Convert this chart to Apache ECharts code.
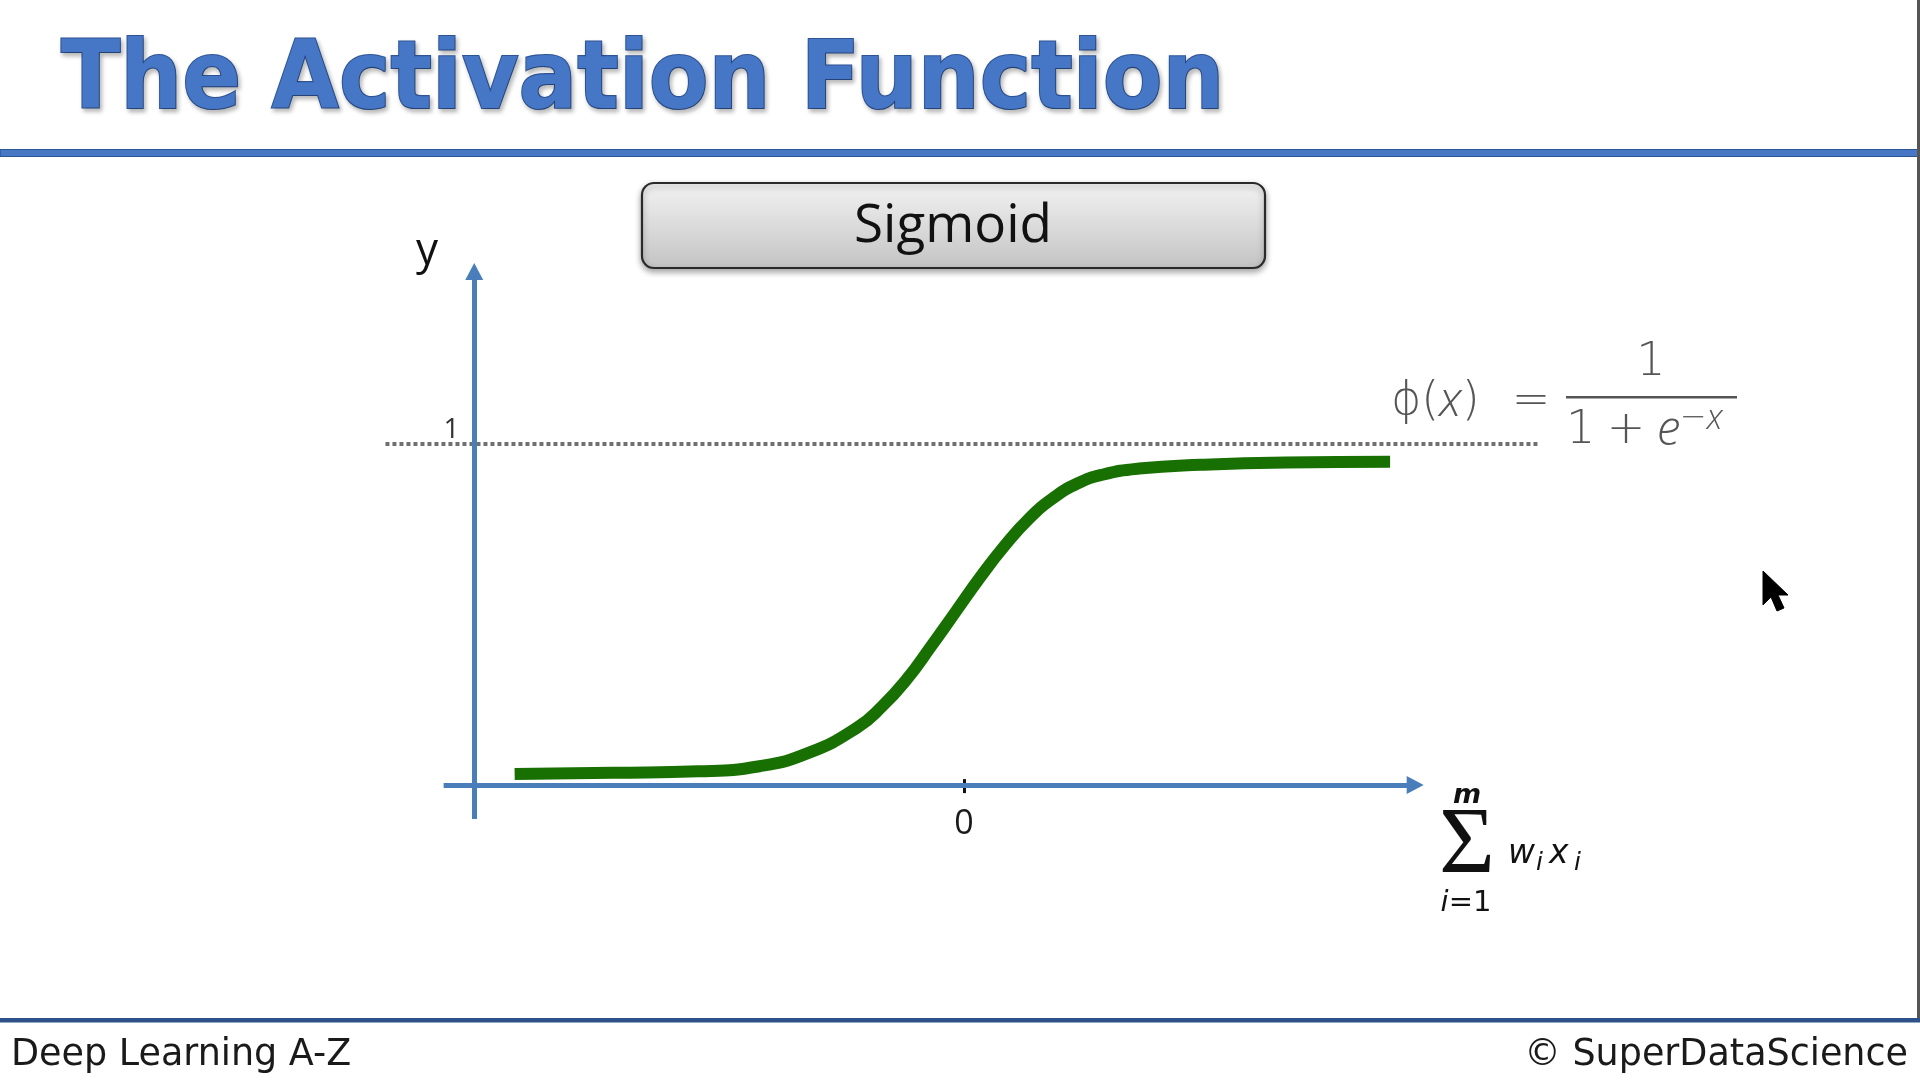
<!DOCTYPE html>
<html>
<head>
<meta charset="utf-8">
<script src="https://cdn.jsdelivr.net/npm/echarts@6/dist/echarts.min.js"></script>
<style>
html,body{margin:0;padding:0;background:#fff;}
#chart{width:1920px;height:1080px;}
</style>
</head>
<body>
<div id="chart"></div>
<script>
// ---- data ----
const curveX = [-7.34, -5.74, -4.34, -3.34, -2.54, -1.74, -1.34, -0.94, -0.54, -0.14, 0.26, 0.66, 1.06, 1.46, 1.86, 2.26, 2.86, 3.86, 5.26, 6.96];
const curveY = [0.032, 0.036, 0.040, 0.055, 0.094, 0.169, 0.230, 0.309, 0.406, 0.507, 0.608, 0.701, 0.781, 0.842, 0.885, 0.910, 0.928, 0.939, 0.946, 0.948];
const xTickValues = [0];
const xTickLabels = ['0'];
const yTickValues = [1];
const yTickLabels = ['1'];
const asymptote = 1;
const titleText = 'The Activation Function';
const boxText = 'Sigmoid';
const footerLeft = 'Deep Learning A-Z';
const footerRight = '\u00A9 SuperDataScience';

const chart = echarts.init(document.getElementById('chart'), null, {renderer: 'canvas'});

const AXIS_BLUE = '#4A7EBB';
const GRAY = '#555555';
const UP = {fontFamily: 'DejaVu Sans', fontWeight: 200, fill: GRAY, color: GRAY};
const IT = {fontFamily: "'Open Sans', 'DejaVu Sans'", fontWeight: 300, fontStyle: 'italic', fill: GRAY, color: GRAY};
const pts = curveX.map((x, i) => [x, curveY[i]]);

const option = {
  backgroundColor: '#ffffff',
  animation: false,
  grid: {left: 382.4, right: 374.4, top: 259.9, bottom: 260.9, containLabel: false, outerBoundsMode: 'none'},
  xAxis: {
    type: 'value', min: -9.5, max: 9.5,
    position: 'bottom', offset: -40,
    axisLine: {show: false, onZero: false},
    splitLine: {show: false},
    axisTick: {show: true, customValues: xTickValues, length: 14, lineStyle: {color: '#111', width: 3}},
    axisLabel: {show: true, customValues: xTickValues, margin: 28,
      formatter: v => xTickLabels[xTickValues.indexOf(v)] || '',
      color: '#1a1a1a', fontSize: 34, fontFamily: 'Open Sans'}
  },
  yAxis: {
    type: 'value', min: -0.1, max: 1.54,
    axisLine: {show: false},
    splitLine: {show: false},
    axisTick: {show: false},
    axisLabel: {show: true, inside: true, customValues: yTickValues, margin: 61,
      verticalAlign: 'bottom',
      formatter: v => yTickLabels[yTickValues.indexOf(v)] || '',
      color: '#333', fontSize: 28, fontFamily: 'Open Sans'}
  },
  series: [{
    type: 'line',
    data: pts,
    smooth: 0.5,
    symbol: 'none',
    clip: false,
    z: 5,
    lineStyle: {color: '#187002', width: 12, cap: 'butt', join: 'round'},
    markLine: {
      silent: true,
      animation: false,
      label: {show: false},
      emphasis: {disabled: true},
      data: [
        // asymptote dotted line
        [{coord: [-9.45, asymptote], symbol: 'none', lineStyle: {color: '#707070', width: 4, type: [4, 3]}},
         {coord: [9.4, asymptote], symbol: 'none'}],
        // y axis with arrow
        [{coord: [-8, -0.1], symbol: 'none', lineStyle: {color: AXIS_BLUE, width: 5, type: 'solid'}},
         {coord: [-8, 1.506], symbol: 'triangle', symbolSize: [18, 17]}],
        // x axis with arrow
        [{coord: [-8.5, 0], symbol: 'none', lineStyle: {color: AXIS_BLUE, width: 5, type: 'solid'}},
         {coord: [7.37, 0], symbol: 'triangle', symbolSize: [18, 17]}]
      ]
    }
  }],
  graphic: [
    // title
    {type: 'text', x: 61, y: 84, scaleY: 1.08, z: 10,
      style: {text: titleText, fontFamily: 'DejaVu Sans', fontWeight: 'bold', fontSize: 87,
        fill: '#4676C6', stroke: '#2F5597', lineWidth: 2,
        align: 'left', verticalAlign: 'middle', textAlign: 'left', textVerticalAlign: 'middle',
        textShadowColor: 'rgba(0,0,0,0.25)', textShadowBlur: 4, textShadowOffsetX: 2, textShadowOffsetY: 3}},
    // title rule
    {type: 'rect', shape: {x: 0, y: 149.5, width: 1918, height: 7}, style: {fill: '#4677C4', stroke: '#2B5493', lineWidth: 1.2}},
    // right frame edge
    {type: 'rect', shape: {x: 1917, y: 0, width: 3, height: 1018}, style: {fill: '#555'}},
    // footer rule
    {type: 'rect', shape: {x: 0, y: 1018, width: 1920, height: 4.5}, style: {fill: '#2E5189'}},
    {type: 'text', x: 11, y: 1056,
      style: {text: footerLeft, fontFamily: 'DejaVu Sans', fontSize: 36.5, fill: '#1a1a1a',
        align: 'left', verticalAlign: 'middle', textAlign: 'left', textVerticalAlign: 'middle'}},
    {type: 'text', x: 1908, y: 1056,
      style: {text: footerRight, fontFamily: 'DejaVu Sans', fontSize: 36.5, fill: '#1a1a1a',
        align: 'right', verticalAlign: 'middle', textAlign: 'right', textVerticalAlign: 'middle'}},
    // Sigmoid box
    {type: 'rect', shape: {x: 642, y: 183, width: 623, height: 85, r: 12},
      style: {fill: new echarts.graphic.LinearGradient(0, 0, 0, 1, [{offset: 0, color: '#f3f3f3'}, {offset: 1, color: '#c3c3c3'}]),
        stroke: '#2a2a2a', lineWidth: 2.2, shadowColor: 'rgba(0,0,0,0.35)', shadowBlur: 6, shadowOffsetY: 3}},
    {type: 'text', x: 953, y: 227, z: 10,
      style: {text: boxText, fontFamily: 'Open Sans', fontSize: 53, fill: '#111',
        align: 'center', verticalAlign: 'middle', textAlign: 'center', textVerticalAlign: 'middle'}},
    // y axis name
    {type: 'text', x: 427, y: 251,
      style: {text: 'y', fontFamily: 'Open Sans', fontSize: 44, fill: '#111',
        align: 'center', verticalAlign: 'middle', textAlign: 'center', textVerticalAlign: 'middle'}},
    // formula phi(x) = 1/(1+e^-x)
    {type: 'text', x: 1391, y: 402,
      style: {text: '{n|\u03D5(}{i|x}{n|)\u2002\u2009=}', fill: GRAY, align: 'left', verticalAlign: 'middle', textAlign: 'left', textVerticalAlign: 'middle',
        rich: {i: Object.assign({fontSize: 48}, IT), n: Object.assign({fontSize: 46}, UP)}}},
    {type: 'text', x: 1651, y: 363,
      style: Object.assign({text: '1', fontSize: 46, align: 'center', verticalAlign: 'middle', textAlign: 'center', textVerticalAlign: 'middle'}, UP)},
    {type: 'rect', shape: {x: 1566, y: 396, width: 171, height: 2.5}, style: {fill: GRAY}},
    {type: 'text', x: 1566, y: 431,
      style: {text: '{n|1\u2005+\u2005}{i|e}', fill: GRAY, align: 'left', verticalAlign: 'middle', textAlign: 'left', textVerticalAlign: 'middle',
        rich: {i: Object.assign({fontSize: 48}, IT), n: Object.assign({fontSize: 46}, UP)}}},
    {type: 'text', x: 1680, y: 419,
      style: {text: '{n|\u2212}{i|x}', fill: GRAY, align: 'left', verticalAlign: 'middle', textAlign: 'left', textVerticalAlign: 'middle',
        rich: {i: Object.assign({fontSize: 34}, IT), n: Object.assign({fontSize: 32}, UP)}}},
    // sum label
    {type: 'text', x: 1467, y: 848,
      style: {text: '\u03A3', fontFamily: 'Liberation Serif', fontSize: 96, fill: '#111',
        align: 'center', verticalAlign: 'middle', textAlign: 'center', textVerticalAlign: 'middle'}},
    {type: 'text', x: 1467, y: 796,
      style: {text: 'm', fontFamily: 'DejaVu Sans', fontStyle: 'italic', fontWeight: 'bold', fontSize: 27, fill: '#111',
        align: 'center', verticalAlign: 'middle', textAlign: 'center', textVerticalAlign: 'middle'}},
    {type: 'text', x: 1466, y: 903,
      style: {text: '{it|i}{n|=1}', align: 'center', verticalAlign: 'middle', textAlign: 'center', textVerticalAlign: 'middle',
        rich: {it: {fontFamily: 'DejaVu Sans', fontStyle: 'italic', fontSize: 29, fill: '#111', color: '#111'},
               n: {fontFamily: 'DejaVu Sans', fontSize: 29, fill: '#111', color: '#111'}}}},
    {type: 'text', x: 1508, y: 854,
      style: {text: 'w', fontFamily: 'DejaVu Sans', fontStyle: 'italic', fontSize: 33, fill: '#111',
        align: 'left', verticalAlign: 'middle', textAlign: 'left', textVerticalAlign: 'middle'}},
    {type: 'text', x: 1536, y: 863,
      style: {text: 'i', fontFamily: 'DejaVu Sans', fontStyle: 'italic', fontSize: 25, fill: '#111',
        align: 'left', verticalAlign: 'middle', textAlign: 'left', textVerticalAlign: 'middle'}},
    {type: 'text', x: 1549, y: 854,
      style: {text: 'x', fontFamily: 'DejaVu Sans', fontStyle: 'italic', fontSize: 33, fill: '#111',
        align: 'left', verticalAlign: 'middle', textAlign: 'left', textVerticalAlign: 'middle'}},
    {type: 'text', x: 1574, y: 863,
      style: {text: 'i', fontFamily: 'DejaVu Sans', fontStyle: 'italic', fontSize: 25, fill: '#111',
        align: 'left', verticalAlign: 'middle', textAlign: 'left', textVerticalAlign: 'middle'}},
    // mouse cursor
    {type: 'polygon', shape: {points: [[1763, 571], [1763, 605], [1771, 597], [1777, 611], [1784, 608], [1778, 595], [1788, 595]]},
      style: {fill: '#000', stroke: '#000', lineWidth: 1}}
  ]
};
chart.setOption(option);
</script>
</body>
</html>
